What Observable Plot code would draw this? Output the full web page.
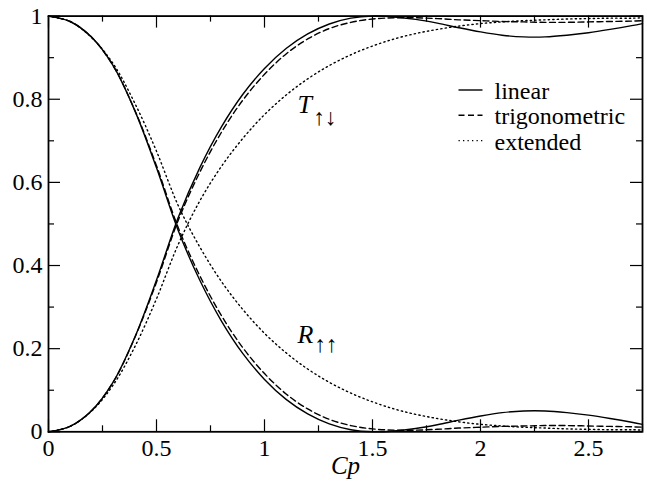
<!DOCTYPE html>
<html><head><meta charset="utf-8">
<script src="https://cdn.jsdelivr.net/npm/d3@7"></script>
<script src="https://cdn.jsdelivr.net/npm/@observablehq/plot@0.6"></script>
<style>
html,body{margin:0;padding:0;background:#fff;overflow:hidden;}
</style>
</head><body><div id="chart"></div>
<script>
// ---- data ----
const cp = [0,0.1,0.2,0.3,0.4,0.5,0.6,0.7,0.8,0.9,1.0,1.1,1.2,1.3,1.4,1.5,1.6,1.7,1.8,1.9,2.0,2.1,2.2,2.3,2.4,2.5,2.6,2.7,2.75];
const linearT = [0,0.013,0.051,0.12,0.228,0.365,0.515,0.635,0.733,0.812,0.874,0.922,0.957,0.981,0.995,1.0,0.998,0.992,0.983,0.972,0.962,0.954,0.95,0.95,0.954,0.96,0.968,0.977,0.982];
const linearR = [1,0.987,0.949,0.88,0.772,0.635,0.485,0.365,0.267,0.188,0.126,0.078,0.043,0.019,0.005,0,0.002,0.008,0.017,0.028,0.038,0.046,0.05,0.05,0.046,0.04,0.032,0.023,0.018];
const trigT = [0,0.013,0.051,0.12,0.227,0.36,0.508,0.624,0.72,0.798,0.86,0.909,0.945,0.97,0.985,0.993,0.996,0.996,0.994,0.991,0.989,0.987,0.986,0.985,0.985,0.986,0.987,0.988,0.989];
const trigR = [1,0.987,0.949,0.88,0.773,0.64,0.492,0.376,0.28,0.202,0.14,0.091,0.055,0.03,0.015,0.007,0.004,0.004,0.006,0.009,0.011,0.013,0.014,0.015,0.015,0.014,0.013,0.012,0.011];
const extT = [0,0.013,0.05,0.113,0.205,0.32,0.45,0.555,0.638,0.706,0.763,0.81,0.849,0.881,0.907,0.928,0.945,0.958,0.968,0.976,0.982,0.986,0.989,0.991,0.993,0.994,0.995,0.995,0.996];
const extR = [1,0.987,0.948,0.885,0.79,0.675,0.545,0.445,0.362,0.294,0.237,0.19,0.151,0.119,0.093,0.072,0.055,0.042,0.032,0.024,0.018,0.014,0.011,0.009,0.007,0.006,0.005,0.005,0.004];

const seriesNames = ["linear","trigonometric","extended"];
const xTicks = [0,0.5,1,1.5,2,2.5];
const xMinorTicks = [0.25,0.75,1.25,1.75,2.25,2.75];
const yTicks = [0,0.2,0.4,0.6,0.8,1];
const yMinorTicks = [0.1,0.3,0.5,0.7,0.9];
const xLabel = "Cp";
const curveLabels = [{main:"T", sub:"↑↓"},{main:"R", sub:"↑↑"}];

// ---- layout / style ----
const W = 647, H = 485, mL = 48, mR = 5, mT = 15.6, mB = 53.7;
const innerH = H - mT - mB, innerW = W - mL - mR;
const font = "Liberation Serif";
const dash = {linear: null, trigonometric: "6,3.5", extended: "1.3,3.2"};
const px2x = d3.scaleLinear([mL, W - mR], [0, 2.75]);
const px2y = d3.scaleLinear([H - mB, mT], [0, 1]);

const table = (vals) => cp.map((c, i) => ({c, v: vals[i]}));
const curves = [
  {s: "linear", d: table(linearT)}, {s: "linear", d: table(linearR)},
  {s: "trigonometric", d: table(trigT)}, {s: "trigonometric", d: table(trigR)},
  {s: "extended", d: table(extT)}, {s: "extended", d: table(extR)}
];

const legendRows = seriesNames.map((s, i) => ({
  s, x1: px2x(458), x2: px2x(482), y: px2y(89.5 + 25.3 * i),
  tx: px2x(494), ty: px2y(91 + 25.2 * i)
}));
const labelPos = [
  {mx: px2x(297), my: px2y(104), sx: px2x(313), sy: px2y(117.5)},
  {mx: px2x(297), my: px2y(334), sx: px2x(314), sy: px2y(344.5)}
];
const labelRows = curveLabels.map((l, i) => ({...l, ...labelPos[i]}));

const chart = Plot.plot({
  width: W, height: H,
  marginLeft: mL, marginRight: mR, marginTop: mT, marginBottom: mB,
  style: {fontFamily: font, fontSize: "24px", background: "white", color: "black"},
  x: {domain: [0, 2.75]},
  y: {domain: [0, 1]},
  marks: [
    Plot.axisX({ticks: xTicks, tickSize: 0, tickPadding: 7, tickFormat: d => String(d), label: null, fontSize: 24, fontFamily: font}),
    Plot.axisY({ticks: yTicks, tickSize: 0, tickPadding: 6, tickFormat: d => String(d), label: null, fontSize: 24, fontFamily: font}),
    // inward ticks on all four sides
    Plot.ruleX(xTicks, {x: d => d, insetTop: innerH - 12, strokeWidth: 1.2}),
    Plot.ruleX(xMinorTicks, {x: d => d, insetTop: innerH - 6, strokeWidth: 1.2}),
    Plot.ruleX(xTicks, {x: d => d, insetBottom: innerH - 12, strokeWidth: 1.2}),
    Plot.ruleX(xMinorTicks, {x: d => d, insetBottom: innerH - 6, strokeWidth: 1.2}),
    Plot.ruleY(yTicks, {y: d => d, insetRight: innerW - 12, strokeWidth: 1.2}),
    Plot.ruleY(yMinorTicks, {y: d => d, insetRight: innerW - 6, strokeWidth: 1.2}),
    Plot.ruleY(yTicks, {y: d => d, insetLeft: innerW - 12, strokeWidth: 1.2}),
    Plot.ruleY(yMinorTicks, {y: d => d, insetLeft: innerW - 6, strokeWidth: 1.2}),
    // curves
    ...curves.map(({s, d}) => Plot.line(d, {x: "c", y: "v", curve: "catmull-rom", stroke: "black", strokeWidth: 1.4, strokeDasharray: dash[s]})),
    Plot.frame({stroke: "black", strokeWidth: 1.8}),
    // legend
    ...legendRows.map(r => Plot.link([r], {x1: "x1", x2: "x2", y1: "y", y2: "y", stroke: "black", strokeWidth: 1.4, strokeDasharray: dash[r.s]})),
    Plot.text(legendRows, {x: "tx", y: "ty", text: "s", textAnchor: "start", fontSize: 24, fontFamily: font}),
    // curve labels
    Plot.text(labelRows, {x: "mx", y: "my", text: "main", textAnchor: "start", fontSize: 26, fontStyle: "italic", fontFamily: font}),
    Plot.text(labelRows, {x: "sx", y: "sy", text: "sub", textAnchor: "start", fontSize: 23, fontFamily: font}),
    // x axis title
    Plot.text([xLabel], {text: d => d, frameAnchor: "bottom", lineAnchor: "middle", dy: 34, fontStyle: "italic", fontSize: 25, fontFamily: font})
  ]
});
// force the serif face on every text node
d3.select(chart).style("font-family", font);
d3.select(chart).selectAll("text").each(function() {
  this.style.fontFamily = font;
  const fs = this.closest("[font-size]");
  if (fs) this.style.fontSize = fs.getAttribute("font-size") + "px";
});
document.getElementById("chart").appendChild(chart);
</script>
</body></html>
